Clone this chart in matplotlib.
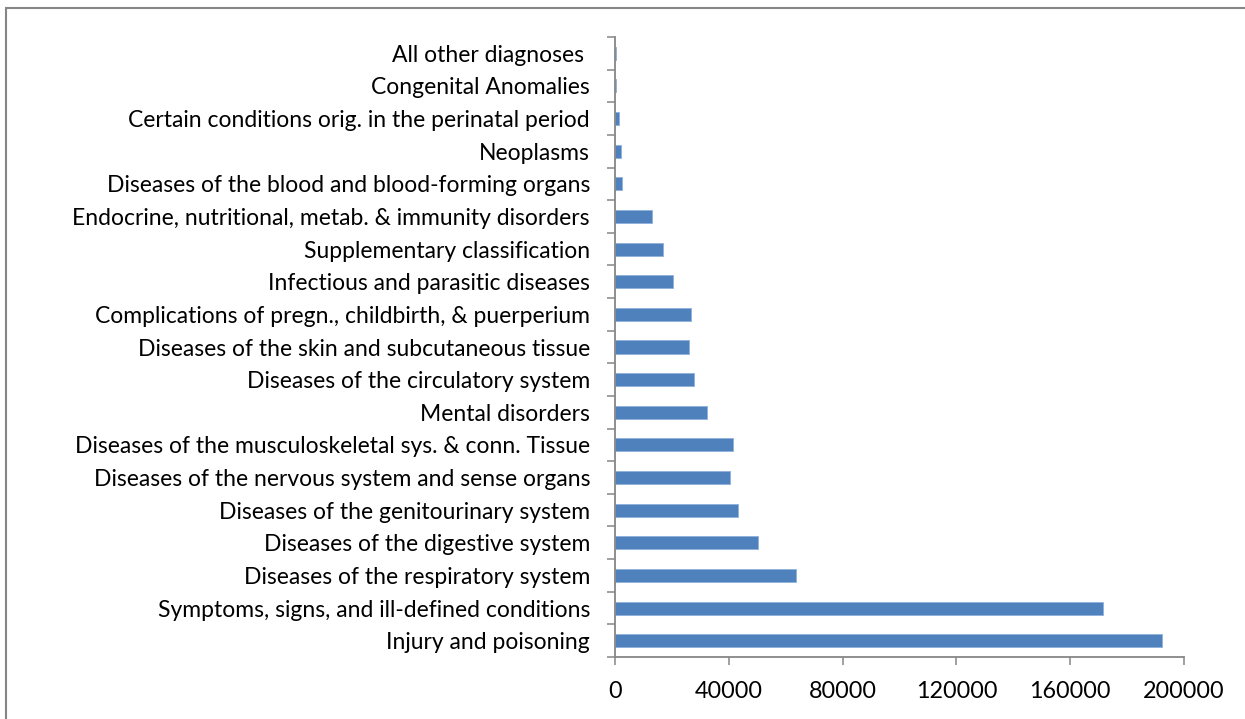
import matplotlib
matplotlib.use("Agg")
import matplotlib.pyplot as plt
from matplotlib.patches import Rectangle
from matplotlib.ticker import FixedLocator

# Categories listed bottom to top, as in the chart
categories = [
    "Injury and poisoning",
    "Symptoms, signs, and ill-defined conditions",
    "Diseases of the respiratory system",
    "Diseases of the digestive system",
    "Diseases of the genitourinary system",
    "Diseases of the nervous system and sense organs",
    "Diseases of the musculoskeletal sys. & conn. Tissue",
    "Mental disorders",
    "Diseases of the circulatory system",
    "Diseases of the skin and subcutaneous tissue",
    "Complications of pregn., childbirth, & puerperium",
    "Infectious and parasitic diseases",
    "Supplementary classification",
    "Endocrine, nutritional, metab. & immunity disorders",
    "Diseases of the blood and blood-forming organs",
    "Neoplasms",
    "Certain conditions orig. in the perinatal period",
    "Congenital Anomalies",
    "All other diagnoses ",
]
values = [192300, 171600, 63700, 50100, 43400, 40300, 41500, 32500, 27800,
          25900, 26600, 20500, 16800, 13100, 2300, 2000, 1400, 300, 200]
x_ticks = [0, 40000, 80000, 120000, 160000, 200000]

W, H = 1245, 719
axis_gray = "#868686"
bar_blue = "#4F81BD"

plt.rcParams["font.family"] = ["Lato", "DejaVu Sans"]

fig = plt.figure(figsize=(W / 100, H / 100), dpi=100)
ax = fig.add_axes([615 / W, (H - 657) / H, (1184 - 615) / W, (657 - 37) / H])

y_pos = list(range(len(categories)))
ax.barh(y_pos, values, height=0.4, color=bar_blue, edgecolor="#8DB0DC", linewidth=0.6)

ax.set_xlim(0, 200000)
ax.set_ylim(-0.5, len(categories) - 0.5)

ax.set_yticks(y_pos)
ax.set_yticklabels(categories, fontsize=16.5)
ax.yaxis.set_minor_locator(FixedLocator([i - 0.5 for i in range(len(categories) + 1)]))
ax.tick_params(axis="y", which="major", length=0, pad=18)
ax.tick_params(axis="y", which="minor", length=6, width=1.1, color=axis_gray)

ax.set_xticks(x_ticks)
ax.set_xticklabels([str(t) for t in x_ticks], fontsize=16.8)
ax.tick_params(axis="x", length=6, width=1.1, color=axis_gray, pad=11)

for side in ["top", "right"]:
    ax.spines[side].set_visible(False)
for side in ["left", "bottom"]:
    ax.spines[side].set_color(axis_gray)
    ax.spines[side].set_linewidth(1.3)

# Chart area border (runs off the right and bottom edges)
fig.add_artist(Rectangle((6 / W, -0.05), 1.1, 1 - 8 / H + 0.05, transform=fig.transFigure,
                         fill=False, edgecolor=axis_gray, linewidth=1.5))

fig.savefig("out.png", dpi=100)
